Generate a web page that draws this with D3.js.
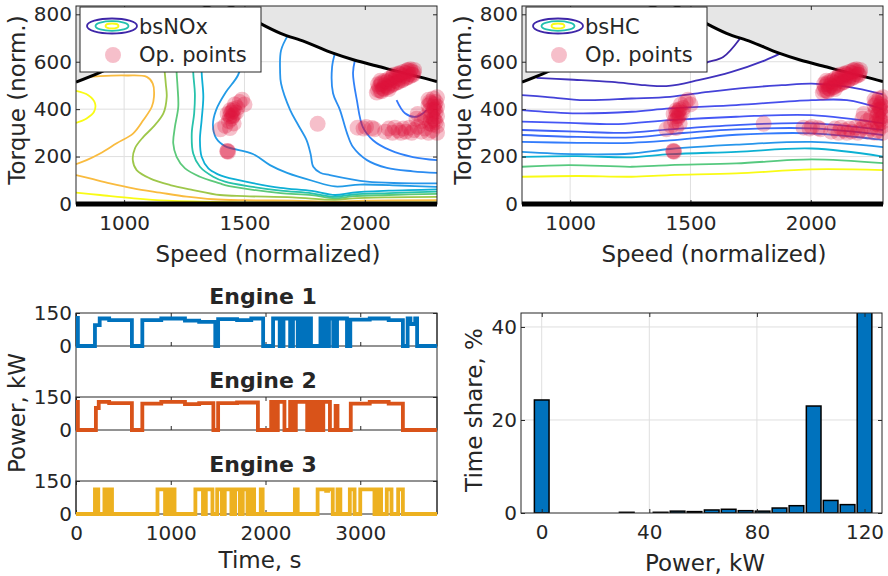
<!DOCTYPE html>
<html>
<head>
<meta charset="utf-8">
<script src="https://cdn.jsdelivr.net/npm/d3@7"></script>
<style>
  body { margin: 0; background: #fff; }
  text { font-family: "DejaVu Sans", Verdana, sans-serif; fill: #262626; }
</style>
</head>
<body>
<svg id="chart" width="888" height="576"></svg>
<script>
// ---------- data ----------
var speedDomain = [800, 2300];
var torqueDomain = [0, 835];
var speedTicks = [1000, 1500, 2000];
var torqueTicks = [0, 200, 400, 600, 800];

// full load (max torque) curve and the zero-torque line
var maxTorque = [[800,514],[900,555],[1000,605],[1100,670],[1200,740],[1300,810],[1400,850],[1450,830],
  [1500,800],[1565,762],[1650,720],[1750,685],[1868,636],[1959,606],[2050,582],[2150,555],[2230,535],[2300,516]];
var minTorque = [[800,0],[2300,0]];

// bsNOx contour lines (level = position in colormap)
var noxLines = [
  {level: 1.0, pts: [[800,477],[851,459],[879,425],[875,389],[844,361],[800,342]]},
  {level: 1.0, pts: [[800,48],[900,38],[1040,24],[1180,14],[1320,10],[1500,7],[1700,6],[1876,4],[2000,6],[2300,7]]},
  {level: 0.81, pts: [[830,532],[900,539],[1011,542],[1094,536],[1119,508],[1124,452],[1115,410],[1080,354],[1038,298],[969,256],[900,213],[844,185],[800,168]]},
  {level: 0.81, pts: [[800,122],[858,108],[941,87],[1038,66],[1149,48],[1260,31],[1370,20],[1500,16],[1700,14],[1876,10],[2000,14],[2300,16]]},
  {level: 0.66, pts: [[1160,720],[1165,600],[1173,508],[1177,452],[1163,382],[1121,325],[1080,283],[1045,235],[1036,185],[1052,143],[1107,108],[1191,80],[1287,59],[1398,38],[1500,33],[1700,28],[1876,18],[1950,24],[2100,28],[2300,30]]},
  {level: 0.56, pts: [[1215,740],[1218,557],[1222,494],[1225,410],[1211,325],[1204,256],[1218,199],[1253,150],[1315,115],[1398,87],[1419,80],[1535,60],[1650,46],[1780,37],[1876,24],[1950,33],[2100,38],[2300,43]]},
  {level: 0.46, pts: [[1285,800],[1287,557],[1294,466],[1291,382],[1281,298],[1287,213],[1315,157],[1370,115],[1419,94],[1535,72],[1650,56],[1780,45],[1876,30],[1950,40],[2100,46],[2300,52]]},
  {level: 0.34, pts: [[1320,815],[1322,557],[1329,452],[1322,354],[1315,269],[1322,199],[1350,150],[1390,125],[1419,114],[1535,88],[1650,68],[1780,55],[1876,38],[1950,48],[2100,56],[2300,62]]},
  {level: 0.26, pts: [[1510,780],[1495,620],[1473,543],[1423,472],[1382,396],[1369,333],[1382,278],[1419,244],[1535,211],[1606,164],[1677,131],[1785,97],[1876,74],[1980,82],[2146,78],[2300,72]]},
  {level: 0.24, pts: [[1681,712],[1652,648],[1648,560],[1652,508],[1690,396],[1725,330],[1758,269],[1775,210],[1786,157],[1815,132],[1855,122],[2010,94],[2150,88],[2300,87]]},
  {level: 0.22, pts: [[1876,636],[1864,577],[1868,467],[1897,396],[1926,299],[1951,240],[2009,185],[2092,152],[2200,138],[2300,131]]},
  {level: 0.2, pts: [[1959,606],[1951,552],[1967,438],[1992,324],[2034,269],[2105,227],[2200,198],[2300,185]]},
  {level: 0.18, pts: [[2132,438],[2167,383],[2215,368],[2257,396]]}
];

// bsHC contour lines
var hcLines = [
  {level: 0.0, pts: [[1480,570],[1540,585],[1574,599],[1636,620],[1706,698]]},
  {level: 0.03, pts: [[860,532],[995,525],[1173,515],[1311,501],[1410,498],[1533,522],[1671,557],[1810,606],[1872,634]]},
  {level: 0.07, pts: [[800,459],[896,452],[1062,438],[1256,445],[1415,452],[1574,473],[1740,491],[1879,501],[2004,508],[2150,495],[2300,462]]},
  {level: 0.1, pts: [[800,396],[1030,382],[1256,389],[1415,403],[1690,417],[2004,438],[2150,438],[2300,400]]},
  {level: 0.12, pts: [[800,347],[995,342],[1200,337],[1415,354],[1690,368],[2004,375],[2300,340]]},
  {level: 0.14, pts: [[800,312],[1030,305],[1230,300],[1415,315],[1690,333],[2004,340],[2300,312]]},
  {level: 0.16, pts: [[800,291],[1030,283],[1256,281],[1415,295],[1690,315],[2004,319],[2300,291]]},
  {level: 0.19, pts: [[800,262],[1030,258],[1256,258],[1415,268],[1690,292],[2004,298],[2300,270]]},
  {level: 0.24, pts: [[800,220],[1030,210],[1256,213],[1415,232],[1690,250],[2004,262],[2300,240]]},
  {level: 0.35, pts: [[800,199],[1030,202],[1256,197],[1415,210],[1690,220],[2004,234],[2300,200]]},
  {level: 0.55, pts: [[800,157],[995,164],[1256,157],[1415,164],[1690,171],[2004,188],[2300,172]]},
  {level: 1.0, pts: [[800,115],[1030,118],[1256,115],[1415,122],[1690,129],[2004,146],[2300,143]]}
];

// operating points [speed, torque]
var opPoints = [
  // high-load cluster near full load
  [2055,480],[2060,495],[2068,505],[2075,488],[2082,500],[2090,515],[2095,495],[2102,510],[2110,525],[2115,505],
  [2122,520],[2130,535],[2136,515],[2142,530],[2150,545],[2156,525],[2163,540],[2170,553],[2176,535],[2183,548],
  [2190,560],[2196,545],[2203,555],[2070,475],[2100,485],[2140,550],[2180,565],[2065,520],[2120,545],
  [2050,470],[2065,478],[2080,485],[2095,492],[2110,500],[2125,508],[2140,515],[2155,522],[2170,530],[2185,537],[2200,545],
  [2055,505],[2070,512],[2085,520],[2100,528],[2115,535],[2130,542],[2145,550],[2160,557],[2175,563],[2190,568],[2205,565],
  // right edge cluster
  [2265,440],[2275,425],[2285,445],[2295,430],[2300,410],[2290,400],[2270,395],[2280,380],[2300,370],[2285,360],
  [2295,345],[2275,350],[2300,330],[2265,415],[2290,420],[2280,335],
  [2270,430],[2285,410],[2295,390],[2275,370],[2290,355],[2270,340],[2300,450],[2285,395],
  // part-load row
  [1970,322],[1995,318],[2005,325],[2030,320],[2040,315],[2085,305],[2100,318],[2115,300],[2125,322],[2140,310],
  [2150,300],[2160,318],[2170,305],[2185,322],[2195,300],[2205,312],[2220,325],[2235,305],[2250,318],[2265,300],
  [2280,310],[2300,300],[2215,360],[2235,350],[2220,380],[2250,365],
  // cluster around 1450
  [1430,380],[1440,395],[1450,370],[1455,400],[1465,385],[1470,405],[1445,360],[1460,420],[1480,430],[1500,420],
  [1490,440],[1420,330],[1440,320],[1400,315],[1455,340],[1435,350],[1445,385],[1455,375],[1440,370],[1450,392],
  [1428,222],[1432,220],[1430,224],
  [1804,338]
];

// engine power traces [time s, power kW], step changes
var timeDomain = [0, 3810];
var timeTicks = [0, 1000, 2000, 3000];
var powerTicks = [0, 150];
var engine1 = [[0,128],[20,0],[200,95],[250,125],[350,118],[590,0],[700,118],[900,125],[1150,115],[1300,110],[1470,0],
  [1500,122],[1700,118],[1850,125],[1975,0],[2080,125],[2150,0],[2190,125],[2260,0],[2290,125],[2340,0],[2370,125],
  [2400,0],[2420,125],[2440,0],[2470,125],[2480,0],[2580,125],[2600,0],[2620,125],[2650,0],[2670,125],[2715,0],
  [2755,125],[2860,0],[2895,120],[3100,125],[3300,118],[3450,0],[3500,125],[3530,100],[3580,125],[3600,0],[3810,0]];
var engine2 = [[0,128],[20,0],[210,100],[240,128],[350,122],[590,0],[700,120],[900,128],[1150,118],[1300,122],[1450,0],
  [1500,122],[1700,125],[1920,0],[2060,128],[2100,0],[2130,128],[2200,0],[2260,128],[2290,0],[2320,128],[2440,0],
  [2470,128],[2500,0],[2540,128],[2580,0],[2610,128],[2680,0],[2740,110],[2760,0],[2900,120],[3100,128],[3300,120],
  [3450,0],[3810,0]];
var engine3 = [[0,0],[200,112],[235,0],[300,112],[330,0],[350,112],[380,0],[860,112],[940,0],[960,112],[990,0],
  [1010,112],[1040,0],[1260,112],[1340,0],[1370,112],[1440,0],[1490,112],[1540,0],[1570,112],[1640,0],[1680,112],
  [1730,0],[1760,112],[1810,0],[1850,112],[1880,0],[1950,112],[1970,0],[2310,112],[2340,0],[2550,112],[2640,105],
  [2660,112],[2710,0],[2760,112],[2790,0],[2890,112],[2940,0],[3000,112],[3150,0],[3180,112],[3220,0],[3280,112],
  [3330,0],[3400,112],[3450,0],[3810,0]];
var engines = [
  {name: "Engine 1", color: "#0072bd", trace: engine1},
  {name: "Engine 2", color: "#d95319", trace: engine2},
  {name: "Engine 3", color: "#edb120", trace: engine3}
];

// histogram of power
var binCenters = [0, 6.3, 12.6, 18.9, 25.3, 31.6, 37.9, 44.2, 50.5, 56.8, 63.2, 69.5, 75.8, 82.1, 88.4, 94.7, 101.1, 107.4, 113.7, 120];
var timeShare = [24.3, 0, 0, 0, 0, 0.15, 0, 0.15, 0.4, 0.3, 0.65, 0.8, 0.5, 0.4, 1.07, 1.57, 23.0, 2.7, 1.8, 45];
var powerBinTicks = [0, 40, 80, 120];
var shareTicks = [0, 20, 40];

// ---------- drawing ----------
var svg = d3.select("#chart");
var defs = svg.append("defs");
var axisColor = "#262626";
var gridColor = "#dfdfdf";

var parula = d3.scaleLinear()
  .domain([0, 0.111, 0.19, 0.238, 0.365, 0.492, 0.619, 0.746, 0.81, 0.873, 1])
  .range(["#3e26a8","#4752f4","#327bfc","#2796eb","#08b5d0","#31c69f","#81cc59","#dcbd29","#f9bb3f","#fccf30","#f9fb15"])
  .clamp(true);

function addClip(id, x, y, w, h) {
  defs.append("clipPath").attr("id", id)
    .append("rect").attr("x", x).attr("y", y).attr("width", w).attr("height", h);
}

function styleAxis(sel, size) {
  sel.select(".domain").remove();
  sel.selectAll("line").attr("stroke", axisColor);
  sel.selectAll("text").attr("fill", axisColor).style("font-size", size + "px")
    .style("font-family", "DejaVu Sans, Verdana, sans-serif");
}

// draw a box with inward ticks on all four sides
function drawAxes(g, x, y, xVals, yVals, showX, showY, xPad) {
  var x0 = x.range()[0], x1 = x.range()[1], yb = y.range()[0], yt = y.range()[1];
  var fmt = d3.format("d");
  g.append("g").attr("transform", "translate(0," + yb + ")")
    .call(d3.axisBottom(x).tickValues(xVals).tickSize(-4).tickPadding(xPad || 12)
      .tickFormat(showX ? fmt : ""))
    .call(styleAxis, 20);
  g.append("g").attr("transform", "translate(0," + yt + ")")
    .call(d3.axisTop(x).tickValues(xVals).tickSize(-4).tickFormat(""))
    .call(styleAxis, 20);
  g.append("g").attr("transform", "translate(" + x0 + ",0)")
    .call(d3.axisLeft(y).tickValues(yVals).tickSize(-4).tickPadding(4)
      .tickFormat(showY ? fmt : ""))
    .call(styleAxis, 20);
  g.append("g").attr("transform", "translate(" + x1 + ",0)")
    .call(d3.axisRight(y).tickValues(yVals).tickSize(-4).tickFormat(""))
    .call(styleAxis, 20);
  g.append("rect").attr("x", x0).attr("y", yt).attr("width", x1 - x0).attr("height", yb - yt)
    .attr("fill", "none").attr("stroke", axisColor).attr("stroke-width", 1);
}

function drawMap(left, lines, name, id) {
  var W = 361, top = 6, bottom = 204;
  var x = d3.scaleLinear().domain(speedDomain).range([left, left + W]);
  var y = d3.scaleLinear().domain(torqueDomain).range([bottom, top]);
  addClip(id, left, top, W, bottom - top);
  var g = svg.append("g");

  // grid
  g.selectAll("line.gx").data(speedTicks).join("line").attr("class", "gx")
    .attr("x1", function(d){ return x(d); }).attr("x2", function(d){ return x(d); })
    .attr("y1", top).attr("y2", bottom).attr("stroke", gridColor);
  g.selectAll("line.gy").data(torqueTicks.slice(1)).join("line").attr("class", "gy")
    .attr("x1", left).attr("x2", left + W)
    .attr("y1", function(d){ return y(d); }).attr("y2", function(d){ return y(d); })
    .attr("stroke", gridColor);

  var clipped = g.append("g").attr("clip-path", "url(#" + id + ")");
  var contourLine = d3.line().x(function(d){ return x(d[0]); }).y(function(d){ return y(d[1]); })
    .curve(d3.curveCatmullRom.alpha(0.5));
  clipped.selectAll("path.contour").data(lines).join("path").attr("class", "contour")
    .attr("d", function(d){ return contourLine(d.pts); })
    .attr("fill", "none").attr("stroke", function(d){ return parula(d.level); })
    .attr("stroke-width", 1.8);

  // area above the full load curve
  var area = d3.area().x(function(d){ return x(d[0]); }).y0(top).y1(function(d){ return y(d[1]); })
    .curve(d3.curveMonotoneX);
  clipped.append("path").datum(maxTorque).attr("d", area).attr("fill", "#e6e6e6");
  var limLine = d3.line().x(function(d){ return x(d[0]); }).y(function(d){ return y(d[1]); })
    .curve(d3.curveMonotoneX);
  clipped.append("path").datum(maxTorque).attr("d", limLine)
    .attr("fill", "none").attr("stroke", "#000").attr("stroke-width", 3);

  drawAxes(g, x, y, speedTicks, torqueTicks, true, true, 12);

  g.append("path").datum(minTorque).attr("d", limLine)
    .attr("fill", "none").attr("stroke", "#000").attr("stroke-width", 5);

  // operating points
  g.selectAll("circle.op").data(opPoints).join("circle").attr("class", "op")
    .attr("cx", function(d){ return x(d[0]); }).attr("cy", function(d){ return y(d[1]); })
    .attr("r", 8).attr("fill", "#dc143c").attr("fill-opacity", 0.27);

  // axis labels
  g.append("text").attr("transform", "translate(" + (left - 51) + ",100) rotate(-90)")
    .attr("text-anchor", "middle").style("font-size", "23px").text("Torque (norm.)");
  g.append("text").attr("x", left + 192).attr("y", 262)
    .attr("text-anchor", "middle").style("font-size", "23px").text("Speed (normalized)");

  // legend
  var lg = g.append("g").attr("transform", "translate(" + (left + 4) + ",7)");
  lg.append("rect").attr("width", 181).attr("height", 65)
    .attr("fill", "#fff").attr("stroke", axisColor).attr("stroke-width", 1);
  var icon = [{rx: 25, ry: 7.5, c: parula(0)}, {rx: 16.5, ry: 4.8, c: parula(0.45)}, {rx: 6.5, ry: 2.5, c: parula(1)}];
  lg.selectAll("ellipse").data(icon).join("ellipse")
    .attr("cx", 32).attr("cy", 19).attr("rx", function(d){ return d.rx; }).attr("ry", function(d){ return d.ry; })
    .attr("fill", "none").attr("stroke", function(d){ return d.c; }).attr("stroke-width", 1.8);
  lg.append("text").attr("x", 59).attr("y", 27).style("font-size", "21px").text(name);
  lg.append("circle").attr("cx", 33).attr("cy", 48).attr("r", 8)
    .attr("fill", "#dc143c").attr("fill-opacity", 0.27);
  lg.append("text").attr("x", 59).attr("y", 55).style("font-size", "21px").text("Op. points");
}

drawMap(76, noxLines, "bsNOx", "clipL");
drawMap(522, hcLines, "bsHC", "clipR");

// ---------- engine power traces ----------
(function() {
  var left = 76, W = 361, H = 33, tops = [313, 397, 481];
  var x = d3.scaleLinear().domain(timeDomain).range([left, left + W]);
  var g = svg.append("g");
  g.append("line").attr("x1", left).attr("x2", left).attr("y1", tops[0]).attr("y2", tops[2] + H)
    .attr("stroke", axisColor);
  g.append("line").attr("x1", left + W).attr("x2", left + W).attr("y1", tops[0]).attr("y2", tops[2] + H)
    .attr("stroke", axisColor);

  engines.forEach(function(e, i) {
    var top = tops[i];
    var y = d3.scaleLinear().domain([0, 150]).range([top + H, top]);
    drawAxes(g, x, y, timeTicks, powerTicks, i === 2, true, 12);
    var line = d3.line().x(function(d){ return x(d[0]); }).y(function(d){ return y(d[1]); })
      .curve(d3.curveStepAfter);
    g.append("path").datum(e.trace).attr("d", line)
      .attr("fill", "none").attr("stroke", e.color).attr("stroke-width", 3.8)
      .attr("stroke-linejoin", "miter");
    g.append("text").attr("x", 263).attr("y", top - 9).attr("text-anchor", "middle")
      .style("font-size", "22px").style("font-weight", "bold").attr("fill", "#000").text(e.name);
  });

  g.append("text").attr("transform", "translate(25,413) rotate(-90)")
    .attr("text-anchor", "middle").style("font-size", "23px").text("Power, kW");
  g.append("text").attr("x", 260).attr("y", 568).attr("text-anchor", "middle")
    .style("font-size", "23px").text("Time, s");
})();

// ---------- histogram ----------
(function() {
  var left = 521, right = 882, top = 313, bottom = 513;
  var barW = 5.45;
  var x = d3.scaleLinear().domain([-7.7, 126.5]).range([left, right]);
  var y = d3.scaleLinear().domain([0, 43]).range([bottom, top]);
  addClip("clipH", left, top, right - left, bottom - top);
  var g = svg.append("g");

  g.selectAll("line.gx").data(powerBinTicks).join("line").attr("class", "gx")
    .attr("x1", function(d){ return x(d); }).attr("x2", function(d){ return x(d); })
    .attr("y1", top).attr("y2", bottom).attr("stroke", gridColor);
  g.selectAll("line.gy").data(shareTicks.slice(1)).join("line").attr("class", "gy")
    .attr("x1", left).attr("x2", right)
    .attr("y1", function(d){ return y(d); }).attr("y2", function(d){ return y(d); })
    .attr("stroke", gridColor);

  var bars = binCenters.map(function(c, i){ return {c: c, v: timeShare[i]}; })
    .filter(function(d){ return d.v > 0; });
  g.append("g").attr("clip-path", "url(#clipH)")
    .selectAll("rect").data(bars).join("rect")
    .attr("x", function(d){ return x(d.c - barW / 2); })
    .attr("width", function(d){ return x(d.c + barW / 2) - x(d.c - barW / 2); })
    .attr("y", function(d){ return y(d.v); })
    .attr("height", function(d){ return bottom - y(d.v); })
    .attr("fill", "#0072bd").attr("stroke", "#000").attr("stroke-width", 1.5);

  drawAxes(g, x, y, powerBinTicks, shareTicks, true, true, 12);

  g.append("text").attr("transform", "translate(482,410) rotate(-90)")
    .attr("text-anchor", "middle").style("font-size", "23px").text("Time share, %");
  g.append("text").attr("x", 705).attr("y", 571).attr("text-anchor", "middle")
    .style("font-size", "23px").text("Power, kW");
})();
</script>
</body>
</html>
